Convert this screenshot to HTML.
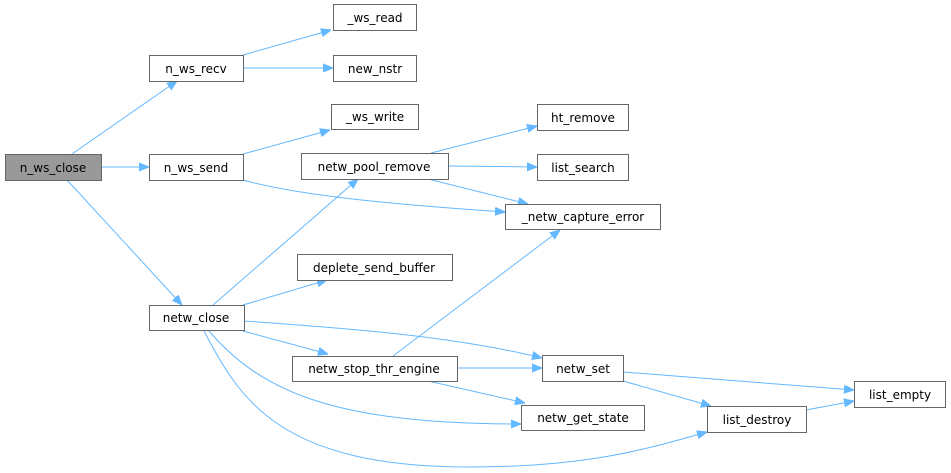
<!DOCTYPE html>
<html><head><meta charset="utf-8"><style>
body{margin:0;background:#fff}
svg{display:block}
text{font-family:"DejaVu Sans","Liberation Sans",sans-serif;font-size:12px;fill:#000}
.n{fill:#fff;stroke:#666;stroke-width:1}
.e{fill:none;stroke:#63b8ff;stroke-width:1}
.a{fill:#63b8ff;stroke:#63b8ff}
</style></head><body>
<svg width="951" height="473" viewBox="0 0 951 473" xmlns="http://www.w3.org/2000/svg">
<defs><marker id="m" viewBox="0 0 10 10" refX="10" refY="5" markerWidth="10" markerHeight="10" markerUnits="userSpaceOnUse" orient="auto"><path d="M0,1 L10,5 L0,9 z" class="a"/></marker></defs>
<g class="e" marker-end="url(#m)">
<path d="M72,154 L177,81"/>
<path d="M101,167 L149,167"/>
<path d="M67,180 L182,305"/>
<path d="M243,55 L331,30"/>
<path d="M243,68 L333,68"/>
<path d="M243,154 L330,130"/>
<path d="M243,180 C300,196 400,205 505,212"/>
<path d="M431,153 L537,126"/>
<path d="M448,166 L537,167"/>
<path d="M428,179 L528,204"/>
<path d="M213,305 L358,179"/>
<path d="M243,305 L327,280"/>
<path d="M244,321 C330,327 450,335 542,358"/>
<path d="M243,331 L328,354"/>
<path d="M204,331 C240,400 280,467 470,467 C590,467 650,448 707,432"/>
<path d="M209,331 C260,390 330,424 521,424"/>
<path d="M393,356 L560,230"/>
<path d="M457,368 L542,368"/>
<path d="M428,381 L525,403"/>
<path d="M623,372 L854,390"/>
<path d="M623,381 L711,406"/>
<path d="M806,410 L854,401"/>
</g>
<rect x="5.5" y="154.5" width="96" height="26" fill="#999" stroke="#666"/><text x="53" y="172" text-anchor="middle">n_ws_close</text>
<rect class="n" x="149.5" y="55.5" width="94" height="26"/><text x="196" y="73" text-anchor="middle">n_ws_recv</text>
<rect class="n" x="149.5" y="154.5" width="94" height="26"/><text x="196" y="172" text-anchor="middle">n_ws_send</text>
<rect class="n" x="149.5" y="305.5" width="95" height="25"/><text x="196" y="322" text-anchor="middle">netw_close</text>
<rect class="n" x="333.5" y="4.5" width="83" height="26"/><text x="375" y="22" text-anchor="middle">_ws_read</text>
<rect class="n" x="333.5" y="55.5" width="83" height="26"/><text x="375" y="73" text-anchor="middle">new_nstr</text>
<rect class="n" x="331.5" y="104.5" width="87" height="25"/><text x="375" y="121" text-anchor="middle">_ws_write</text>
<rect class="n" x="301.5" y="153.5" width="147" height="26"/><text x="374" y="171" text-anchor="middle">netw_pool_remove</text>
<rect class="n" x="297.5" y="254.5" width="155" height="26"/><text x="374" y="272" text-anchor="middle">deplete_send_buffer</text>
<rect class="n" x="292.5" y="356.5" width="165" height="25"/><text x="374" y="373" text-anchor="middle">netw_stop_thr_engine</text>
<rect class="n" x="537.5" y="104.5" width="91" height="26"/><text x="583" y="122" text-anchor="middle">ht_remove</text>
<rect class="n" x="537.5" y="154.5" width="91" height="26"/><text x="583" y="172" text-anchor="middle">list_search</text>
<rect class="n" x="505.5" y="204.5" width="155" height="25"/><text x="583" y="221" text-anchor="middle">_netw_capture_error</text>
<rect class="n" x="542.5" y="355.5" width="81" height="26"/><text x="583" y="373" text-anchor="middle">netw_set</text>
<rect class="n" x="521.5" y="405.5" width="123" height="25"/><text x="583" y="422" text-anchor="middle">netw_get_state</text>
<rect class="n" x="707.5" y="406.5" width="99" height="26"/><text x="757" y="424" text-anchor="middle">list_destroy</text>
<rect class="n" x="854.5" y="381.5" width="91" height="26"/><text x="900" y="399" text-anchor="middle">list_empty</text>
</svg>
</body></html>
